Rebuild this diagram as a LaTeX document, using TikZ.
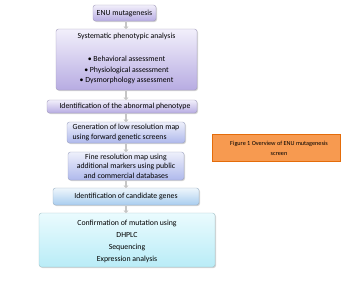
\documentclass[tikz,border=0pt]{standalone}
\usepackage{fontspec}
\setmainfont{Carlito}
\usetikzlibrary{shadows,arrows.meta}
\definecolor{lavA}{HTML}{F2EFFB}
\definecolor{lavB}{HTML}{B7ACE2}
\definecolor{bluA}{HTML}{EEF0FB}
\definecolor{bluB}{HTML}{AFB9EC}
\definecolor{skyA}{HTML}{EEF6FC}
\definecolor{skyB}{HTML}{A9CDEF}
\definecolor{cyA}{HTML}{EAFBFE}
\definecolor{cyB}{HTML}{B9ECF7}
\definecolor{orf}{HTML}{F79A50}
\definecolor{ord}{HTML}{E46C0A}
\tikzset{
  x=1pt,y=-1pt,
  flow/.style={draw=#1!60!gray, line width=0.4pt, rounded corners=2.5pt,
    drop shadow={shadow xshift=1pt,shadow yshift=-1pt,opacity=0.35}},
  lav/.style={flow=lavB, top color=lavA, bottom color=lavB},
  blu/.style={flow=bluB, top color=bluA, bottom color=bluB},
  sky/.style={flow=skyB, top color=skyA, bottom color=skyB},
  cya/.style={flow=cyB, top color=cyA, bottom color=cyB},
  txt/.style={font=\fontsize{7.8}{9.5}\selectfont, align=center, inner sep=0pt},
  conn/.style={draw=gray!45, line width=2.2pt, -{Triangle[length=2.5pt,width=5pt]}},
}
\begin{document}
\begin{tikzpicture}
\useasboundingbox (0,0) rectangle (350,281);
\path[lav] (93,5) rectangle (156,21);
\node[txt] (n1) at (124.5,13) {ENU mutagenesis};
\path[lav] (56,29) rectangle (197,90);
\node[txt] (n2) at (126.5,36) {Systematic phenotypic analysis};
\node[txt, font=\fontsize{7.8}{10.2}\selectfont] (n2b) at (126.5,70) {\textbullet\ Behavioral assessment\\ \textbullet\ Physiological assessment\\ \textbullet\ Dysmorphology assessment};
\path[lav] (47,100) rectangle (197,113);
\node[txt] (n3) at (125,106.5) {Identification of the abnormal phenotype};
\path[blu] (67,122) rectangle (185,143);
\node[txt, align=left] (n4) at (126,132.5) {Generation of low resolution map\\using forward genetic screens};
\path[blu] (68,152) rectangle (184,180);
\node[txt] (n5) at (126,166) {Fine resolution map using\\additional markers using public\\and commercial databases};
\path[sky] (53,188) rectangle (199,205);
\node[txt] (n6) at (126,196.5) {Identification of candidate genes};
\path[cya] (39,213) rectangle (215,267);
\node[txt, font=\fontsize{7.8}{12}\selectfont] (n7) at (127,241.5) {Confirmation of mutation using\\DHPLC\\Sequencing\\Expression analysis};
\path[draw=ord, fill=orf, line width=0.5pt] (212,134) rectangle (340,161);
\node[txt, font=\fontsize{6.2}{10}\selectfont] (fig) at (279,148) {Figure 1 Overview of ENU mutagenesis\\screen};
\coordinate (a1) at (126,22); \coordinate (b1) at (126,29);
\coordinate (a2) at (126,91); \coordinate (b2) at (126,100);
\coordinate (a3) at (126,114); \coordinate (b3) at (126,122);
\coordinate (a4) at (126,144); \coordinate (b4) at (126,152);
\coordinate (a5) at (126,181); \coordinate (b5) at (126,188);
\coordinate (a6) at (126,206); \coordinate (b6) at (126,213);
\foreach \i in {1,...,6} {\draw[conn] (a\i) -- (b\i);}
\end{tikzpicture}
\end{document}
